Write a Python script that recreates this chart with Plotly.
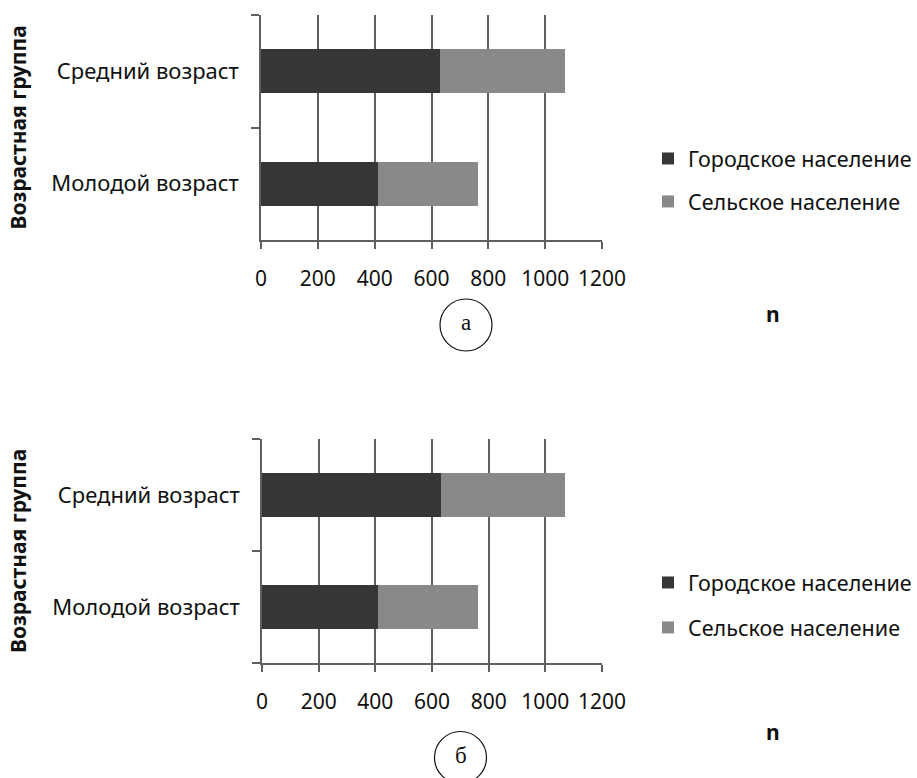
import plotly.graph_objects as go

categories = ["Молодой возраст", "Средний возраст"]
urban = [410, 630]
rural = [354, 439]
series_names = ["Городское население", "Сельское население"]
colors = ["#363636", "#898989"]
x_ticks = [0, 200, 400, 600, 800, 1000, 1200]
panel_labels = ["а", "б"]
y_title = "Возрастная группа"
x_title = "n"

W, H = 917, 778
FONT = "Noto Sans"

fig = go.Figure()
for i, (xa, ya, lg) in enumerate([("x", "y", "legend"), ("x2", "y2", "legend2")]):
    for name, vals, col in zip(series_names, [urban, rural], colors):
        fig.add_trace(go.Bar(
            y=categories, x=vals, orientation="h", name=name,
            marker=dict(color=col, line=dict(width=0)),
            xaxis=xa, yaxis=ya, legend=lg, legendgroup=f"{lg}_{name}",
        ))

def px_x(p):
    return p / W

def px_y(p):
    return 1 - p / H

grid_col = "#5f5f5f"
xcommon = dict(range=[0, 1200], tickvals=x_ticks, showgrid=True, gridcolor=grid_col, gridwidth=1.5,
               showline=True, linecolor=grid_col, linewidth=1.5, ticks="outside", ticklen=7,
               tickcolor=grid_col, tickwidth=1.5, zeroline=False, ticklabelstandoff=12,
               automargin=False,
               tickfont=dict(family=FONT, size=21, color="#111"), fixedrange=True)
ycommon = dict(type="category", categoryorder="array", categoryarray=categories,
               showline=True, linecolor=grid_col, linewidth=1.5, ticks="outside", ticklen=8,
               tickcolor=grid_col, tickwidth=1.5, tickson="boundaries", showgrid=False,
               automargin=False, fixedrange=True,
               ticklabelstandoff=16, tickfont=dict(family=FONT, size=22, color="#111"))

leg_font = dict(family=FONT, size=21.5, color="#111")
fig.update_layout(
    width=W, height=H, margin=dict(l=0, r=0, t=0, b=0, autoexpand=False),
    paper_bgcolor="white", plot_bgcolor="white",
    barmode="stack", bargap=0.61,
    font=dict(family=FONT, color="#111"),
    xaxis=dict(domain=[px_x(261), px_x(602)], anchor="y", **xcommon),
    yaxis=dict(domain=[px_y(240), px_y(15)], anchor="x", **ycommon),
    xaxis2=dict(domain=[px_x(262), px_x(602)], anchor="y2", **xcommon),
    yaxis2=dict(domain=[px_y(663), px_y(439)], anchor="x2", **ycommon),
    legend=dict(x=px_x(648), y=px_y(138), xanchor="left", yanchor="top", traceorder="grouped",
                tracegroupgap=12, font=leg_font, bgcolor="rgba(0,0,0,0)"),
    legend2=dict(x=px_x(648), y=px_y(562), xanchor="left", yanchor="top", traceorder="grouped",
                 tracegroupgap=14, font=leg_font, bgcolor="rgba(0,0,0,0)"),
    showlegend=True,
)

# y-axis titles
for yc in [127.5, 551]:
    fig.add_annotation(text=f"<b>{y_title}</b>", x=px_x(18), y=px_y(yc), xref="paper", yref="paper",
                       xanchor="center", yanchor="middle",
                       textangle=-90, showarrow=False, font=dict(family=FONT, size=21, color="#111"))
# n labels
for yc in [314, 732]:
    fig.add_annotation(text=f"<b>{x_title}</b>", x=px_x(773), y=px_y(yc), xref="paper", yref="paper",
                       xanchor="center", yanchor="middle",
                       showarrow=False, font=dict(family=FONT, size=21, color="#111"))
# panel circles
for (cx, cy, r), lab in zip([(466, 325, 26), (460.5, 757.5, 26)], panel_labels):
    fig.add_shape(type="circle", xref="paper", yref="paper",
                  x0=px_x(cx - r), x1=px_x(cx + r), y0=px_y(cy + r), y1=px_y(cy - r),
                  line=dict(color="#111", width=1.2))
    fig.add_annotation(text=lab, x=px_x(cx), y=px_y(cy - 2), xref="paper", yref="paper",
                       xanchor="center", yanchor="middle",
                       showarrow=False, font=dict(family="Liberation Serif", size=23, color="#111"))

fig.write_html(
    "out.html",
    config={"displayModeBar": False},
    post_script="document.documentElement.style.margin='0';document.body.style.margin='0';"
                "document.body.style.overflow='hidden';",
)
